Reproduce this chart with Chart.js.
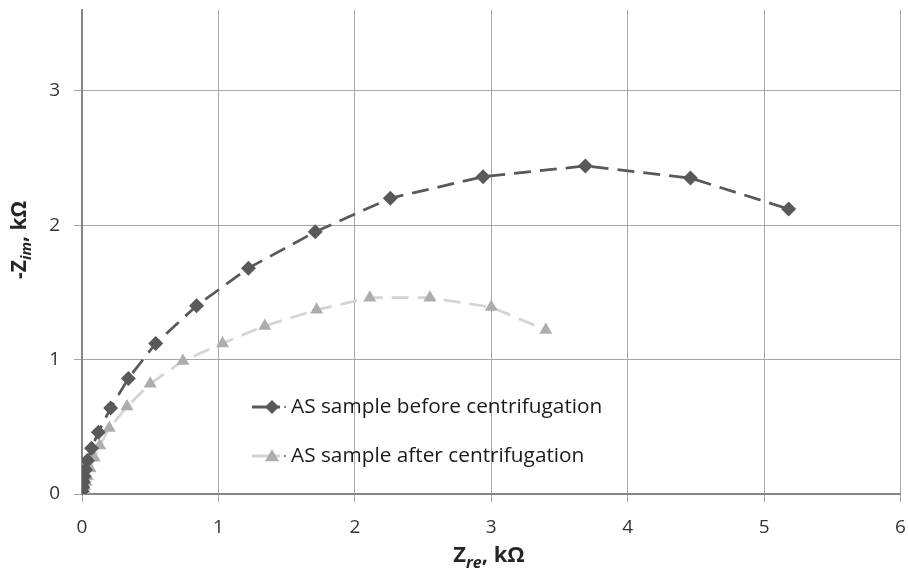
<!DOCTYPE html>
<html>
<head>
<meta charset="utf-8">
<script src="https://cdn.jsdelivr.net/npm/chart.js@4/dist/chart.umd.min.js"></script>
<style>
  html, body { margin: 0; padding: 0; background: #ffffff; }
  #wrap { width: 908px; height: 574px; position: relative; }
</style>
</head>
<body>
<div id="wrap"><canvas id="c" width="908" height="574"></canvas></div>
<script>
// ---- data (kΩ) ----
const seriesLabels = ["AS sample before centrifugation", "AS sample after centrifugation"];
const beforeRe = [0.00, 0.005, 0.01, 0.015, 0.025, 0.04, 0.07, 0.12, 0.21, 0.34, 0.54, 0.84, 1.22, 1.71, 2.26, 2.94, 3.69, 4.46, 5.18];
const beforeIm = [0.02, 0.05, 0.09, 0.13, 0.18, 0.25, 0.34, 0.46, 0.64, 0.86, 1.12, 1.40, 1.68, 1.95, 2.20, 2.36, 2.44, 2.35, 2.12];
const afterRe  = [0.01, 0.015, 0.02, 0.03, 0.04, 0.06, 0.09, 0.13, 0.20, 0.33, 0.50, 0.74, 1.03, 1.34, 1.72, 2.11, 2.55, 3.00, 3.40];
const afterIm  = [0.01, 0.03, 0.06, 0.09, 0.13, 0.19, 0.27, 0.36, 0.49, 0.65, 0.82, 0.99, 1.12, 1.25, 1.37, 1.46, 1.46, 1.39, 1.22];
const xTicks = [0, 1, 2, 3, 4, 5, 6];
const yTicks = [0, 1, 2, 3];

const FONT = "'Open Sans', 'Liberation Sans', sans-serif";
const toPts = (xs, ys) => xs.map((x, i) => ({ x: x, y: ys[i] }));

const legendPlugin = {
  id: 'inLegend',
  afterDraw(chart) {
    const ctx = chart.ctx;
    const rows = [{ y: 407 }, { y: 456 }];
    chart.data.datasets.forEach((ds, i) => {
      const y = rows[i].y;
      ctx.save();
      ctx.strokeStyle = ds.borderColor;
      ctx.lineWidth = 3;
      ctx.setLineDash([]);
      ctx.beginPath(); ctx.moveTo(252, y); ctx.lineTo(280, y); ctx.stroke();
      ctx.fillStyle = ds.pointBackgroundColor;
      const cx = 272, r = 7;
      ctx.beginPath();
      if (ds.pointStyle === 'rectRot') {
        ctx.moveTo(cx, y - r); ctx.lineTo(cx + r, y); ctx.lineTo(cx, y + r); ctx.lineTo(cx - r, y);
      } else {
        ctx.moveTo(cx, y - r); ctx.lineTo(cx + r, y + r * 0.75); ctx.lineTo(cx - r, y + r * 0.75);
      }
      ctx.closePath(); ctx.fill();
      ctx.fillStyle = '#595959';
      ctx.beginPath(); ctx.arc(285, y, 1, 0, Math.PI * 2); ctx.fill();
      ctx.fillStyle = '#1a1a1a';
      ctx.font = '20.8px ' + FONT;
      ctx.textBaseline = 'middle';
      ctx.textAlign = 'left';
      ctx.fillText(ds.label, 291, y);
      ctx.restore();
    });
  }
};

function drawSubTitle(ctx, parts, big, small) {
  let total = 0;
  const f = p => p.sub ? 'italic bold ' + small + 'px ' + FONT : 'bold ' + big + 'px ' + FONT;
  parts.forEach(p => { ctx.font = f(p); p.w = ctx.measureText(p.t).width; total += p.w; });
  let x = -total / 2;
  parts.forEach(p => {
    ctx.font = f(p);
    ctx.fillText(p.t, x, p.sub ? 7 : 0);
    x += p.w;
  });
}

const titlePlugin = {
  id: 'axisTitles',
  afterDraw(chart) {
    const ctx = chart.ctx;
    ctx.save();
    ctx.fillStyle = '#262626';
    ctx.textBaseline = 'middle';
    ctx.textAlign = 'left';
    ctx.translate(489, 556);
    drawSubTitle(ctx, [{ t: 'Z' }, { t: 're', sub: true }, { t: ', kΩ' }], 22, 16);
    ctx.restore();
    ctx.save();
    ctx.fillStyle = '#262626';
    ctx.textBaseline = 'middle';
    ctx.textAlign = 'left';
    ctx.translate(20, 240);
    ctx.rotate(-Math.PI / 2);
    drawSubTitle(ctx, [{ t: '-Z' }, { t: 'im', sub: true }, { t: ', kΩ' }], 21, 15);
    ctx.restore();
  }
};

new Chart(document.getElementById('c'), {
  type: 'scatter',
  data: {
    datasets: [
      {
        label: seriesLabels[0],
        data: toPts(beforeRe, beforeIm),
        showLine: true,
        borderColor: '#595959',
        borderWidth: 2.75,
        borderDash: [17, 9],
        pointStyle: 'rectRot',
        pointRadius: 7.5,
        pointBackgroundColor: '#595959',
        pointBorderColor: '#595959',
        pointBorderWidth: 0,
        tension: 0
      },
      {
        label: seriesLabels[1],
        data: toPts(afterRe, afterIm),
        showLine: true,
        borderColor: '#d4d4d4',
        borderWidth: 2.75,
        borderDash: [17, 9],
        pointStyle: 'triangle',
        pointRadius: 7.5,
        pointBackgroundColor: '#adadad',
        pointBorderColor: '#adadad',
        pointBorderWidth: 0,
        tension: 0
      }
    ]
  },
  options: {
    responsive: false,
    animation: false,
    layout: { padding: { top: 10, right: 4, left: 0, bottom: 0 } },
    plugins: { legend: { display: false }, tooltip: { enabled: false } },
    scales: {
      x: {
        type: 'linear', min: 0, max: 6,
        afterBuildTicks(s) { s.ticks = xTicks.map(v => ({ value: v })); },
        afterFit(s) { s.height = 80; s.paddingLeft = 0; s.paddingRight = 0; },
        ticks: { color: '#333', font: { size: 19, family: FONT }, padding: 14 },
        grid: { color: '#a6a6a6', lineWidth: 1, tickLength: 8, drawTicks: true },
        border: { color: '#868686', width: 2 }
      },
      y: {
        type: 'linear', min: 0, max: 3.6,
        afterBuildTicks(s) { s.ticks = yTicks.map(v => ({ value: v })); },
        afterFit(s) { s.width = 82; s.paddingTop = 0; s.paddingBottom = 0; },
        ticks: { color: '#333', font: { size: 19, family: FONT }, padding: 14 },
        grid: { color: '#a6a6a6', lineWidth: 1, tickLength: 8, drawTicks: true },
        border: { color: '#868686', width: 2 }
      }
    }
  },
  plugins: [legendPlugin, titlePlugin]
});
</script>
</body>
</html>
